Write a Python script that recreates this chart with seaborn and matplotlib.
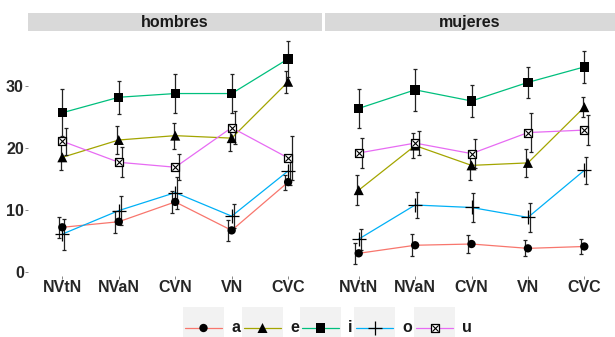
import numpy as np
import pandas as pd
import matplotlib
matplotlib.use("Agg")
import matplotlib.pyplot as plt
import seaborn as sns

# ---- data -------------------------------------------------------------
contextos = ["NVtN", "NVaN", "CVN", "VN", "CVC"]
vocales = ["a", "e", "i", "o", "u"]
grupos = ["hombres", "mujeres"]

# mean values per vowel, one entry per context
hombres_media = {
    "a": [7.2, 8.1, 11.3, 6.7, 14.5],
    "e": [18.5, 21.3, 22.0, 21.6, 30.7],
    "i": [25.7, 28.2, 28.8, 28.8, 34.4],
    "o": [6.1, 9.9, 12.8, 9.0, 16.3],
    "u": [21.1, 17.7, 16.9, 23.3, 18.4],
}
hombres_error = {
    "a": [1.7, 1.8, 1.8, 1.7, 1.2],
    "e": [2.1, 2.2, 2.1, 2.0, 1.8],
    "i": [3.8, 2.7, 3.1, 3.2, 2.9],
    "o": [2.5, 2.3, 2.6, 1.9, 2.2],
    "u": [2.2, 2.4, 2.1, 2.7, 3.5],
}
mujeres_media = {
    "a": [3.0, 4.3, 4.5, 3.8, 4.1],
    "e": [13.2, 20.4, 17.2, 17.6, 26.6],
    "i": [26.4, 29.4, 27.6, 30.6, 33.1],
    "o": [5.3, 10.8, 10.4, 8.8, 16.4],
    "u": [19.2, 20.8, 19.1, 22.5, 22.9],
}
mujeres_error = {
    "a": [1.7, 1.8, 1.4, 1.3, 1.2],
    "e": [2.4, 2.0, 2.4, 2.2, 1.6],
    "i": [3.1, 3.4, 2.6, 2.5, 2.6],
    "o": [1.7, 2.1, 2.3, 2.3, 2.2],
    "u": [2.5, 2.0, 2.3, 3.1, 2.4],
}

colores = ["#F8766D", "#A3A500", "#00BF7D", "#00B0F6", "#E76BF3"]

# ---- tidy table -------------------------------------------------------
filas = []
for grupo, medias, errores in [("hombres", hombres_media, hombres_error),
                               ("mujeres", mujeres_media, mujeres_error)]:
    for v in vocales:
        for k, c in enumerate(contextos):
            filas.append(dict(grupo=grupo, vocal=v, contexto=c, pos=k,
                              media=medias[v][k], error=errores[v][k]))
df = pd.DataFrame(filas)

# ---- style ------------------------------------------------------------
sns.set_style("white")
plt.rcParams["font.family"] = ["Liberation Sans", "DejaVu Sans"]
plt.rcParams["font.weight"] = "bold"

W, H = 615, 337
fig = plt.figure(figsize=(W / 100, H / 100), dpi=100)


def fbox(x0, y0, x1, y1):
    """pixel box (top-left origin) -> figure fraction rect"""
    return [x0 / W, (H - y1) / H, (x1 - x0) / W, (y1 - y0) / H]


paneles = {
    "hombres": dict(rect=(28, 31, 322, 275.6), xlim=(-0.608, 4.60)),
    "mujeres": dict(rect=(325, 31, 615, 275.6), xlim=(-0.598, 4.544)),
}
marcadores = {
    "a": dict(marker="o", s=36),
    "e": dict(marker="^", s=52),
    "i": dict(marker="s", s=46),
    "o": dict(marker="+", s=110),
}
desplaz = dict(zip(vocales, [-0.06, -0.03, 0.0, 0.035, 0.06]))
fs = 11.5

for j, grupo in enumerate(grupos):
    p = paneles[grupo]
    x0, y0, x1, y1 = p["rect"]
    ax = fig.add_axes(fbox(x0, y0, x1, y1))
    sub = df[df.grupo == grupo]

    sns.lineplot(data=sub, x="pos", y="media", hue="vocal", hue_order=vocales,
                 palette=colores, linewidth=0.9, legend=False, ax=ax,
                 estimator=None, sort=False, zorder=2)

    for v in vocales:
        d = sub[sub.vocal == v]
        ax.errorbar(d["pos"] + desplaz[v], d["media"], yerr=d["error"],
                    fmt="none", ecolor="#222222", elinewidth=0.9,
                    capsize=1.6, capthick=0.9, zorder=3)

    for v in vocales:
        d = sub[sub.vocal == v]
        if v == "u":
            sns.scatterplot(data=d, x="pos", y="media", marker="s", s=40,
                            facecolor="white", edgecolor="black",
                            linewidth=0.9, ax=ax, zorder=4, legend=False)
            sns.scatterplot(data=d, x="pos", y="media", marker="x", s=20,
                            color="black", linewidth=0.8, ax=ax, zorder=5,
                            legend=False)
        elif v == "o":
            sns.scatterplot(data=d, x="pos", y="media", color="black",
                            linewidth=0.9, ax=ax, zorder=4, legend=False,
                            **marcadores[v])
        else:
            sns.scatterplot(data=d, x="pos", y="media", color="black",
                            edgecolor="none", ax=ax, zorder=4, legend=False,
                            **marcadores[v])

    ax.set_xlim(*p["xlim"])
    ax.set_ylim(-0.6, 38.9)
    ax.set_xticks(range(len(contextos)))
    ax.set_xticklabels(contextos, fontsize=fs, fontweight="bold")
    ax.set_yticks([0, 10, 20, 30])
    if j == 0:
        ax.set_yticklabels(["0", "10", "20", "30"], fontsize=fs,
                           fontweight="bold")
        ax.tick_params(axis="y", length=2, width=0.5, color="#555555",
                       pad=1, left=True)
    else:
        ax.tick_params(axis="y", left=False, labelleft=False)
    ax.tick_params(axis="x", length=2, width=0.5, color="#555555", pad=1.5,
                   bottom=True)
    ax.set_xlabel("")
    ax.set_ylabel("")
    for s in ax.spines.values():
        s.set_visible(False)
    ax.grid(False)
    ax.set_facecolor("white")

    # facet strip
    sx = fig.add_axes(fbox(x0, 13.3, x1, 30.7))
    sx.set_facecolor("#D9D9D9")
    sx.set_xticks([])
    sx.set_yticks([])
    for s in sx.spines.values():
        s.set_visible(False)
    sx.text(0.5, 0.45, grupo, ha="center", va="center", fontsize=fs,
            fontweight="bold", color="#1A1A1A", transform=sx.transAxes)

# ---- legend -------------------------------------------------------------
clave_x = [183, 242, 300, 354, 414]
clave_w = 41
for v, c, kx in zip(vocales, colores, clave_x):
    kax = fig.add_axes(fbox(kx, 307, kx + clave_w, 337))
    kax.set_facecolor("#F2F2F2")
    kax.set_xlim(0, 1)
    kax.set_ylim(0, 1)
    kax.set_xticks([])
    kax.set_yticks([])
    for s in kax.spines.values():
        s.set_visible(False)
    ly = 0.3
    kax.plot([0.05, 0.95], [ly, ly], color=c, lw=0.9)
    if v == "u":
        kax.scatter([0.5], [ly], marker="s", s=40, facecolor="white",
                    edgecolor="black", linewidth=0.9, zorder=3)
        kax.scatter([0.5], [ly], marker="x", s=20, color="black",
                    linewidth=0.8, zorder=4)
    elif v == "o":
        kax.scatter([0.5], [ly], color="black", linewidth=0.9, zorder=3,
                    **marcadores[v])
    else:
        kax.scatter([0.5], [ly], color="black", edgecolor="none", zorder=3,
                    **marcadores[v])
    fig.text((kx + clave_w + 7) / W, 1 - 328 / H, v, ha="left",
             va="center", fontsize=fs, fontweight="bold", color="#1A1A1A")

fig.savefig("out.png", dpi=100)
